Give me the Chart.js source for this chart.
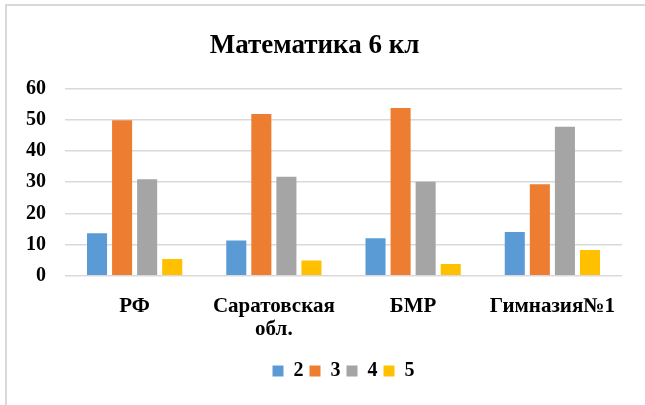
<!DOCTYPE html>
<html lang="ru">
<head>
<meta charset="utf-8">
<title>Математика 6 кл</title>
<script src="https://cdn.jsdelivr.net/npm/chart.js@4/dist/chart.umd.min.js"></script>
<style>
    html, body { margin: 0; padding: 0; background: #ffffff; }
    body { width: 645px; height: 405px; position: relative; overflow: hidden; }
    .frame {
        position: absolute; left: 5px; top: 4px; right: 0; bottom: 0;
        border-left: 2px solid #d9d9d9; border-top: 2px solid #d9d9d9;
    }
    .chart-box { position: absolute; left: 0; top: 0; width: 645px; height: 405px; }
</style>
</head>
<body>
<div class="frame"></div>
<div class="chart-box"><canvas id="chart-math"></canvas></div>
<script>
// Data grafik
const chartTitle = 'Математика 6 кл';
const categories = ['РФ', ['Саратовская', 'обл.'], 'БМР', 'Гимназия№1'];
const seriesNames = ['2', '3', '4', '5'];
const grade2 = [13.6, 11.3, 12.0, 14.0];
const grade3 = [49.8, 51.8, 53.7, 29.3];
const grade4 = [30.9, 31.7, 30.1, 47.7];
const grade5 = [5.4, 4.9, 3.8, 8.3];
const yTicks = [0, 10, 20, 30, 40, 50, 60];

const seriesColors = ['#5B9BD5', '#ED7D31', '#A5A5A5', '#FFC000'];
const fontFamily = '"Liberation Serif", "Times New Roman", serif';

function buildDatasets() {
    const values = [grade2, grade3, grade4, grade5];
    return seriesNames.map((name, i) => ({
        label: name,
        data: values[i],
        backgroundColor: seriesColors[i],
        borderWidth: 0,
        categoryPercentage: 0.72,
        barPercentage: 0.8
    }));
}

function initChart() {
    const ctx = document.getElementById('chart-math').getContext('2d');

    new Chart(ctx, {
        type: 'bar',
        data: {
            labels: categories,
            datasets: buildDatasets()
        },
        options: {
            responsive: true,
            maintainAspectRatio: false,
            animation: false,
            layout: {
                padding: { left: 7, right: 23, top: 6, bottom: 14 }
            },
            plugins: {
                title: {
                    display: true,
                    text: chartTitle,
                    color: '#000000',
                    font: { family: fontFamily, size: 27, weight: 'bold' },
                    padding: { top: 24, bottom: 26 }
                },
                legend: {
                    display: true,
                    position: 'bottom',
                    // legenda dipusatkan di bawah area plot
                    fullSize: false,
                    labels: {
                        color: '#000000',
                        boxWidth: 11,
                        boxHeight: 11,
                        padding: 6,
                        font: { family: fontFamily, size: 20, weight: 'bold' }
                    }
                },
                tooltip: { enabled: false }
            },
            scales: {
                x: {
                    grid: { display: false },
                    border: { display: false },
                    ticks: {
                        color: '#000000',
                        padding: 11,
                        maxRotation: 0,
                        autoSkip: false,
                        font: { family: fontFamily, size: 21, weight: 'bold', lineHeight: 1.1 }
                    },
                    afterFit: (scale) => { scale.height += 3; }
                },
                y: {
                    min: yTicks[0],
                    max: yTicks[yTicks.length - 1],
                    afterBuildTicks: (scale) => {
                        scale.ticks = yTicks.map(v => ({ value: v }));
                    },
                    grid: {
                        color: '#d9d9d9',
                        lineWidth: 1.5,
                        drawTicks: false
                    },
                    border: { display: false },
                    ticks: {
                        color: '#000000',
                        padding: 19,
                        font: { family: fontFamily, size: 20, weight: 'bold' }
                    }
                }
            }
        }
    });
}

document.addEventListener('DOMContentLoaded', initChart);
</script>
</body>
</html>
